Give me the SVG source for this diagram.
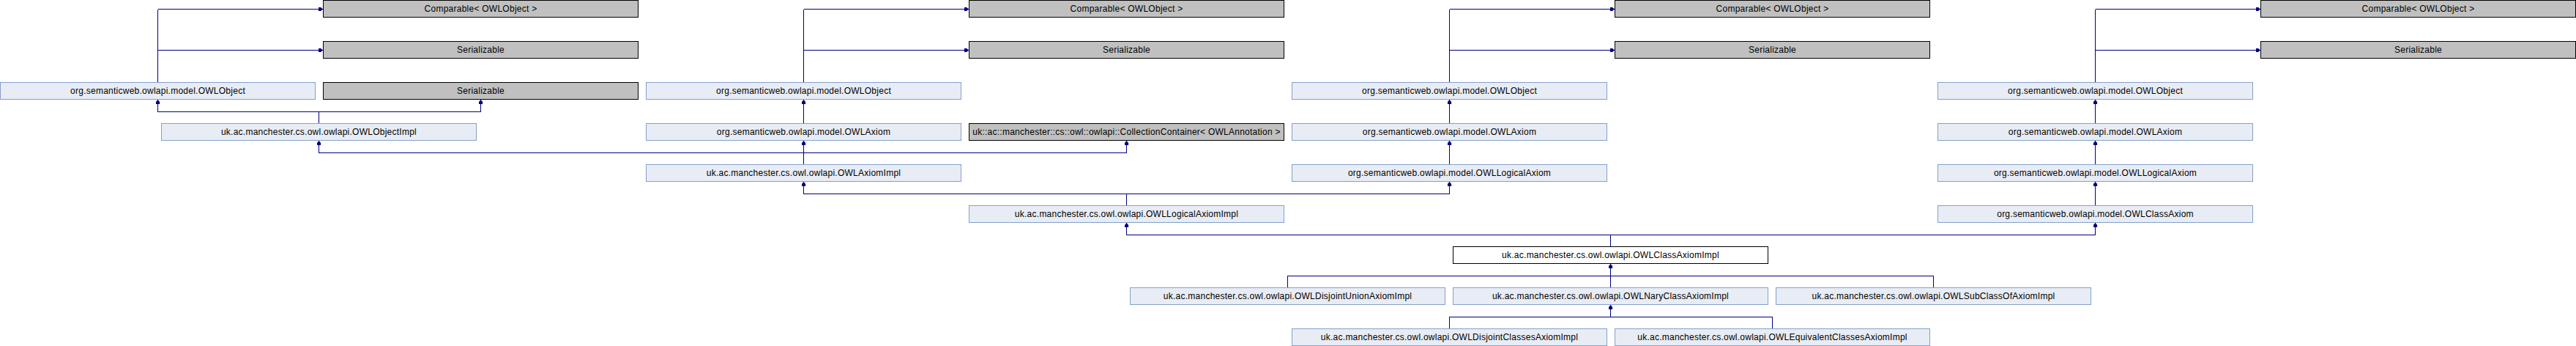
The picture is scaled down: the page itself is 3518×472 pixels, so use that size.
<svg xmlns="http://www.w3.org/2000/svg" width="3518" height="472" viewBox="0 0 3518 472">
<style>
rect{shape-rendering:crispEdges;stroke-width:1}
.n rect{fill:#E8ECF4;stroke:#84A0CC}
.g rect{fill:#C0C0C0;stroke:#000000}
.c rect{fill:#FFFFFF;stroke:#000000}
text{font-family:"Liberation Sans",Arial,Helvetica,sans-serif;font-size:12px;letter-spacing:0.25px;fill:#000000;text-anchor:middle}
#edges path{fill:none;stroke:#000080;stroke-width:1;shape-rendering:crispEdges}
#edges path.a{marker-end:url(#arr)}
</style>
<defs>
<marker id="arr" markerUnits="userSpaceOnUse" viewBox="-6 -3 6 6" refX="0" refY="0" markerWidth="6" markerHeight="6" orient="auto">
<path d="M0,0 L-3,-2.6 L-6,-2.6 L-6,2.6 L-3,2.6 Z" fill="#000080" stroke="none"/>
</marker>
</defs>
<rect x="0" y="0" width="3518" height="472" fill="#FFFFFF" style="stroke:none"/>
<g id="edges">
<!-- OWLObject col0 -> Comparable/Serializable col1 -->
<path d="M215.5,112 V12.5"/>
<path class="a" d="M215.5,12.5 H441"/>
<path class="a" d="M215.5,68.5 H441"/>
<path d="M1097.5,112 V12.5"/>
<path class="a" d="M1097.5,12.5 H1323"/>
<path class="a" d="M1097.5,68.5 H1323"/>
<path d="M1979.5,112 V12.5"/>
<path class="a" d="M1979.5,12.5 H2205"/>
<path class="a" d="M1979.5,68.5 H2205"/>
<path d="M2861.5,112 V12.5"/>
<path class="a" d="M2861.5,12.5 H3087"/>
<path class="a" d="M2861.5,68.5 H3087"/>
<!-- OWLObjectImpl -> OWLObject, Serializable -->
<path d="M435.5,168 V152.5 M215.5,152.5 H656.5"/>
<path class="a" d="M215.5,152.5 V136"/>
<path class="a" d="M656.5,152.5 V136"/>
<!-- OWLAxiom -> OWLObject -->
<path class="a" d="M1097.5,168 V136"/>
<path class="a" d="M1979.5,168 V136"/>
<path class="a" d="M2861.5,168 V136"/>
<!-- OWLAxiomImpl -> OWLAxiom, OWLObjectImpl, CollectionContainer -->
<path class="a" d="M1097.5,224 V192"/>
<path d="M435.5,208.5 H1538.5"/>
<path class="a" d="M435.5,208.5 V192"/>
<path class="a" d="M1538.5,208.5 V192"/>
<!-- OWLLogicalAxiom -> OWLAxiom -->
<path class="a" d="M1979.5,224 V192"/>
<path class="a" d="M2861.5,224 V192"/>
<!-- OWLLogicalAxiomImpl -> OWLAxiomImpl, OWLLogicalAxiom -->
<path d="M1538.5,280 V264.5 M1097.5,264.5 H1979.5"/>
<path class="a" d="M1097.5,264.5 V248"/>
<path class="a" d="M1979.5,264.5 V248"/>
<!-- OWLClassAxiom -> OWLLogicalAxiom -->
<path class="a" d="M2861.5,280 V248"/>
<!-- OWLClassAxiomImpl -> OWLLogicalAxiomImpl, OWLClassAxiom -->
<path d="M2199.5,336 V320.5 M1538.5,320.5 H2861.5"/>
<path class="a" d="M1538.5,320.5 V304"/>
<path class="a" d="M2861.5,320.5 V304"/>
<!-- row 7 -> OWLClassAxiomImpl -->
<path d="M1758.5,392 V376.5 H2640.5 V392"/>
<path class="a" d="M2199.5,392 V360"/>
<!-- row 8 -> OWLNaryClassAxiomImpl -->
<path d="M1979.5,448 V432.5 H2420.5 V448"/>
<path class="a" d="M2199.5,432.5 V416"/>
</g>
<g id="comparable1" class="g"><rect x="441.5" y="0.5" width="430" height="23"/><text x="656.5" y="16">Comparable&lt; OWLObject &gt;</text></g>
<g id="comparable2" class="g"><rect x="1323.5" y="0.5" width="430" height="23"/><text x="1538.5" y="16">Comparable&lt; OWLObject &gt;</text></g>
<g id="comparable3" class="g"><rect x="2205.5" y="0.5" width="430" height="23"/><text x="2420.5" y="16">Comparable&lt; OWLObject &gt;</text></g>
<g id="comparable4" class="g"><rect x="3087.5" y="0.5" width="430" height="23"/><text x="3302.5" y="16">Comparable&lt; OWLObject &gt;</text></g>
<g id="serializable1" class="g"><rect x="441.5" y="56.5" width="430" height="23"/><text x="656.5" y="72">Serializable</text></g>
<g id="serializable2" class="g"><rect x="1323.5" y="56.5" width="430" height="23"/><text x="1538.5" y="72">Serializable</text></g>
<g id="serializable3" class="g"><rect x="2205.5" y="56.5" width="430" height="23"/><text x="2420.5" y="72">Serializable</text></g>
<g id="serializable4" class="g"><rect x="3087.5" y="56.5" width="430" height="23"/><text x="3302.5" y="72">Serializable</text></g>
<g id="serializable5" class="g"><rect x="441.5" y="112.5" width="430" height="23"/><text x="656.5" y="128">Serializable</text></g>
<g id="owlobject1" class="n"><rect x="0.5" y="112.5" width="430" height="23"/><text x="215.5" y="128">org.semanticweb.owlapi.model.OWLObject</text></g>
<g id="owlobject2" class="n"><rect x="882.5" y="112.5" width="430" height="23"/><text x="1097.5" y="128">org.semanticweb.owlapi.model.OWLObject</text></g>
<g id="owlobject3" class="n"><rect x="1764.5" y="112.5" width="430" height="23"/><text x="1979.5" y="128">org.semanticweb.owlapi.model.OWLObject</text></g>
<g id="owlobject4" class="n"><rect x="2646.5" y="112.5" width="430" height="23"/><text x="2861.5" y="128">org.semanticweb.owlapi.model.OWLObject</text></g>
<g id="owlobjectimpl" class="n"><rect x="220.5" y="168.5" width="430" height="23"/><text x="435.5" y="184">uk.ac.manchester.cs.owl.owlapi.OWLObjectImpl</text></g>
<g id="owlaxiom1" class="n"><rect x="882.5" y="168.5" width="430" height="23"/><text x="1097.5" y="184">org.semanticweb.owlapi.model.OWLAxiom</text></g>
<g id="collectioncontainer" class="g"><rect x="1323.5" y="168.5" width="430" height="23"/><text x="1538.5" y="184">uk::ac::manchester::cs::owl::owlapi::CollectionContainer&lt; OWLAnnotation &gt;</text></g>
<g id="owlaxiom2" class="n"><rect x="1764.5" y="168.5" width="430" height="23"/><text x="1979.5" y="184">org.semanticweb.owlapi.model.OWLAxiom</text></g>
<g id="owlaxiom3" class="n"><rect x="2646.5" y="168.5" width="430" height="23"/><text x="2861.5" y="184">org.semanticweb.owlapi.model.OWLAxiom</text></g>
<g id="owlaxiomimpl" class="n"><rect x="882.5" y="224.5" width="430" height="23"/><text x="1097.5" y="240">uk.ac.manchester.cs.owl.owlapi.OWLAxiomImpl</text></g>
<g id="owllogicalaxiom1" class="n"><rect x="1764.5" y="224.5" width="430" height="23"/><text x="1979.5" y="240">org.semanticweb.owlapi.model.OWLLogicalAxiom</text></g>
<g id="owllogicalaxiom2" class="n"><rect x="2646.5" y="224.5" width="430" height="23"/><text x="2861.5" y="240">org.semanticweb.owlapi.model.OWLLogicalAxiom</text></g>
<g id="owllogicalaxiomimpl" class="n"><rect x="1323.5" y="280.5" width="430" height="23"/><text x="1538.5" y="296">uk.ac.manchester.cs.owl.owlapi.OWLLogicalAxiomImpl</text></g>
<g id="owlclassaxiom" class="n"><rect x="2646.5" y="280.5" width="430" height="23"/><text x="2861.5" y="296">org.semanticweb.owlapi.model.OWLClassAxiom</text></g>
<g id="owlclassaxiomimpl" class="c"><rect x="1984.5" y="336.5" width="430" height="23"/><text x="2199.5" y="352">uk.ac.manchester.cs.owl.owlapi.OWLClassAxiomImpl</text></g>
<g id="owldisjointunionaxiomimpl" class="n"><rect x="1543.5" y="392.5" width="430" height="23"/><text x="1758.5" y="408">uk.ac.manchester.cs.owl.owlapi.OWLDisjointUnionAxiomImpl</text></g>
<g id="owlnaryclassaxiomimpl" class="n"><rect x="1984.5" y="392.5" width="430" height="23"/><text x="2199.5" y="408">uk.ac.manchester.cs.owl.owlapi.OWLNaryClassAxiomImpl</text></g>
<g id="owlsubclassofaxiomimpl" class="n"><rect x="2425.5" y="392.5" width="430" height="23"/><text x="2640.5" y="408">uk.ac.manchester.cs.owl.owlapi.OWLSubClassOfAxiomImpl</text></g>
<g id="owldisjointclassesaxiomimpl" class="n"><rect x="1764.5" y="448.5" width="430" height="23"/><text x="1979.5" y="464">uk.ac.manchester.cs.owl.owlapi.OWLDisjointClassesAxiomImpl</text></g>
<g id="owlequivalentclassesaxiomimpl" class="n"><rect x="2205.5" y="448.5" width="430" height="23"/><text x="2420.5" y="464">uk.ac.manchester.cs.owl.owlapi.OWLEquivalentClassesAxiomImpl</text></g>
</svg>
